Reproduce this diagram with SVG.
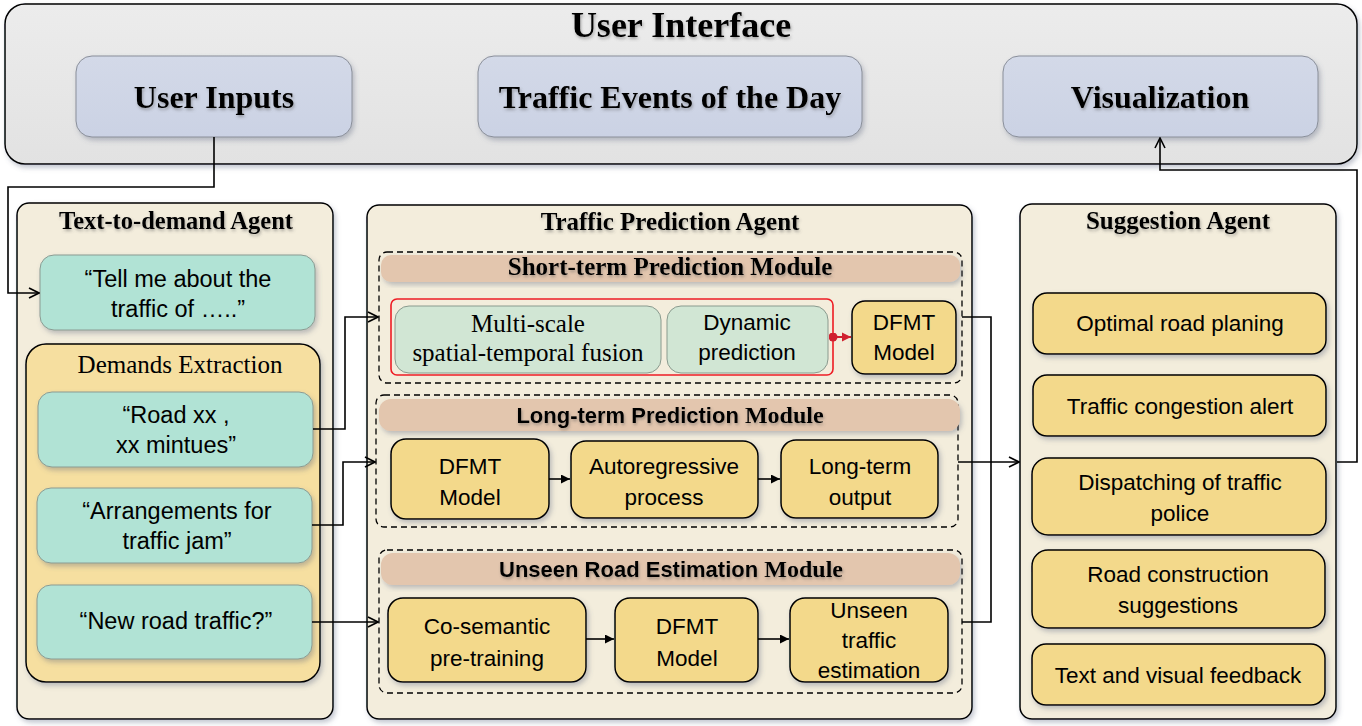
<svg xmlns="http://www.w3.org/2000/svg" width="1362" height="726" viewBox="0 0 1362 726">
<defs>
<filter id="sh" x="-10%" y="-10%" width="125%" height="130%">
<feDropShadow dx="2" dy="3" stdDeviation="2.5" flood-color="#55607a" flood-opacity="0.35"/>
</filter>
<filter id="tsh" x="-5%" y="-20%" width="110%" height="150%">
<feDropShadow dx="1" dy="2" stdDeviation="1.5" flood-color="#555" flood-opacity="0.45"/>
</filter>
<linearGradient id="gUI" x1="0" y1="0" x2="0" y2="1">
<stop offset="0" stop-color="#ececec"/><stop offset="1" stop-color="#e2e2e2"/>
</linearGradient>
<linearGradient id="gBlue" x1="0" y1="0" x2="0" y2="1">
<stop offset="0" stop-color="#d3d9e8"/><stop offset="1" stop-color="#cbd2e4"/>
</linearGradient>
<marker id="open" viewBox="0 0 12 12" refX="11" refY="6" markerWidth="12" markerHeight="12" markerUnits="userSpaceOnUse" orient="auto">
<path d="M1,1 L11,6 L1,11" fill="none" stroke="#000" stroke-width="1.6"/>
</marker>
<marker id="fill" viewBox="0 0 10 10" refX="10" refY="5" markerWidth="9" markerHeight="9" markerUnits="userSpaceOnUse" orient="auto">
<path d="M0,0 L10,5 L0,10 Z" fill="#000"/>
</marker>
<marker id="redArr" viewBox="0 0 10 10" refX="10" refY="5" markerWidth="9" markerHeight="10" markerUnits="userSpaceOnUse" orient="auto">
<path d="M0,0 L10,5 L0,10 Z" fill="#d0202f"/>
</marker>
<marker id="redDot" viewBox="0 0 10 10" refX="5" refY="5" markerWidth="9" markerHeight="9" markerUnits="userSpaceOnUse" orient="auto">
<circle cx="5" cy="5" r="5" fill="#d0202f"/>
</marker>
</defs>
<style>
.ui{fill:url(#gUI);stroke:#000;stroke-width:1.5}
.blue{fill:url(#gBlue);stroke:#8a8f9a;stroke-width:1}
.agent{fill:#f3eddc;stroke:#000;stroke-width:1.5}
.teal{fill:#b1e3d5;stroke:#8b9b92;stroke-width:1}
.green{fill:#d1e6d4;stroke:#8a9a8e;stroke-width:1}
.demand{fill:#f6dfa0;stroke:#000;stroke-width:1.5}
.gold{fill:#f3d98b;stroke:#000;stroke-width:1.5}
.dash{fill:none;stroke:#000;stroke-width:1.3;stroke-dasharray:6 4}
.hdr{fill:#e3c6ae}
.red{fill:none;stroke:#ee1c24;stroke-width:1.6}
.bt{font-family:"Liberation Serif",serif;font-weight:bold;fill:#000;text-anchor:middle}
.st{font-family:"Liberation Serif",serif;fill:#000;text-anchor:middle}
.sn{font-family:"Liberation Sans",sans-serif;font-size:22.5px;fill:#000;text-anchor:middle}
.tq{font-family:"Liberation Sans",sans-serif;font-size:23.5px;fill:#000;text-anchor:middle}
.ln{fill:none;stroke:#000;stroke-width:1.6}
</style>

<g id="user-interface">
<rect x="5" y="4" width="1352" height="160" rx="20" class="ui" filter="url(#sh)"/>
<text x="681" y="37" class="bt" font-size="36" filter="url(#tsh)">User Interface</text>
</g>
<g id="user-inputs">
<rect x="76" y="56" width="276" height="81" rx="16" class="blue" filter="url(#sh)"/>
<text x="214" y="108" class="bt" font-size="32" filter="url(#tsh)">User Inputs</text>
</g>
<g id="traffic-events">
<rect x="478" y="56" width="384" height="81" rx="16" class="blue" filter="url(#sh)"/>
<text x="670" y="108" class="bt" font-size="32" filter="url(#tsh)">Traffic Events of the Day</text>
</g>
<g id="visualization">
<rect x="1003" y="56" width="315" height="81" rx="16" class="blue" filter="url(#sh)"/>
<text x="1160" y="108" class="bt" font-size="32" filter="url(#tsh)">Visualization</text>
</g>

<g id="text-to-demand-agent">
<rect x="17" y="203" width="316" height="516" rx="12" class="agent" filter="url(#sh)"/>
<text x="176" y="229" class="bt" font-size="24.5" filter="url(#tsh)">Text-to-demand Agent</text>
</g>
<g id="tell-me">
<rect x="40" y="255" width="275" height="75" rx="14" class="teal" filter="url(#sh)"/>
<text x="178" y="287" class="tq">“Tell me about the</text>
<text x="178" y="317" class="tq">traffic of …..”</text>
</g>
<g id="demands-extraction">
<rect x="26" y="344" width="294" height="338" rx="20" class="demand" filter="url(#sh)"/>
<text x="180" y="373" class="st" font-size="25">Demands Extraction</text>
</g>
<g id="road-xx">
<rect x="38" y="392" width="275" height="75" rx="14" class="teal" filter="url(#sh)"/>
<text x="176" y="423" class="tq">“Road xx ,</text>
<text x="176" y="453" class="tq">xx mintues”</text>
</g>
<g id="arrangements">
<rect x="37" y="488" width="275" height="75" rx="14" class="teal" filter="url(#sh)"/>
<text x="177" y="519" class="tq">“Arrangements for</text>
<text x="177" y="549" class="tq">traffic jam”</text>
</g>
<g id="new-road">
<rect x="37" y="585" width="275" height="74" rx="14" class="teal" filter="url(#sh)"/>
<text x="176" y="629" class="tq">“New road traffic?”</text>
</g>

<g id="traffic-prediction-agent">
<rect x="367" y="205" width="605" height="514" rx="12" class="agent" filter="url(#sh)"/>
<text x="670" y="230" class="bt" font-size="25" filter="url(#tsh)">Traffic Prediction Agent</text>
</g>
<g id="short-term-module">
<rect x="379" y="252" width="583" height="131" rx="8" class="dash"/>
<rect x="381" y="255" width="579" height="27" rx="10" class="hdr" filter="url(#sh)"/>
<text x="670" y="275" class="bt" font-size="25" filter="url(#tsh)">Short-term Prediction Module</text>
<rect x="391" y="299" width="442" height="76" rx="6" class="red"/>
</g>
<g id="multi-scale">
<rect x="395" y="306" width="266" height="67" rx="14" class="green"/>
<text x="528" y="332" class="st" font-size="25">Multi-scale</text>
<text x="528" y="361" class="st" font-size="25">spatial-temporal fusion</text>
</g>
<g id="dynamic-prediction">
<rect x="667" y="306" width="161" height="67" rx="14" class="green"/>
<text x="747" y="330" class="sn">Dynamic</text>
<text x="747" y="360" class="sn">prediction</text>
</g>
<g id="dfmt-short">
<rect x="852" y="301" width="104" height="73" rx="13" class="gold" filter="url(#sh)"/>
<text x="904" y="330" class="sn">DFMT</text>
<text x="904" y="360" class="sn">Model</text>
</g>

<g id="long-term-module">
<rect x="376" y="395" width="582" height="132" rx="8" class="dash"/>
<rect x="379" y="399" width="581" height="32" rx="12" class="hdr" filter="url(#sh)"/>
<text x="670" y="423" font-size="24" font-weight="bold" text-anchor="middle" filter="url(#tsh)"><tspan font-family="Liberation Sans,sans-serif" font-size="22">Long-term Prediction </tspan><tspan font-family="Liberation Serif,serif">Module</tspan></text>
</g>
<g id="dfmt-long">
<rect x="391" y="439" width="158" height="80" rx="15" class="gold" filter="url(#sh)"/>
<text x="470" y="474" class="sn">DFMT</text>
<text x="470" y="505" class="sn">Model</text>
</g>
<g id="autoregressive">
<rect x="571" y="441" width="187" height="77" rx="15" class="gold" filter="url(#sh)"/>
<text x="664" y="474" class="sn">Autoregressive</text>
<text x="664" y="505" class="sn">process</text>
</g>
<g id="long-term-output">
<rect x="781" y="440" width="157" height="78" rx="15" class="gold" filter="url(#sh)"/>
<text x="860" y="474" class="sn">Long-term</text>
<text x="860" y="505" class="sn">output</text>
</g>

<g id="unseen-module">
<rect x="379" y="550" width="583" height="143" rx="8" class="dash"/>
<rect x="381" y="553" width="579" height="32" rx="12" class="hdr" filter="url(#sh)"/>
<text x="671" y="577" font-size="24" font-weight="bold" text-anchor="middle" filter="url(#tsh)"><tspan font-family="Liberation Sans,sans-serif" font-size="22">Unseen Road Estimation </tspan><tspan font-family="Liberation Serif,serif">Module</tspan></text>
</g>
<g id="co-semantic">
<rect x="388" y="598" width="198" height="84" rx="15" class="gold" filter="url(#sh)"/>
<text x="487" y="634" class="sn">Co-semantic</text>
<text x="487" y="666" class="sn">pre-training</text>
</g>
<g id="dfmt-unseen">
<rect x="615" y="598" width="143" height="84" rx="15" class="gold" filter="url(#sh)"/>
<text x="687" y="634" class="sn">DFMT</text>
<text x="687" y="666" class="sn">Model</text>
</g>
<g id="unseen-estimation">
<rect x="790" y="598" width="158" height="84" rx="15" class="gold" filter="url(#sh)"/>
<text x="869" y="618" class="sn">Unseen</text>
<text x="869" y="648" class="sn">traffic</text>
<text x="869" y="678" class="sn">estimation</text>
</g>

<g id="suggestion-agent">
<rect x="1020" y="204" width="316" height="515" rx="12" class="agent" filter="url(#sh)"/>
<text x="1178" y="229" class="bt" font-size="25" filter="url(#tsh)">Suggestion Agent</text>
</g>
<g id="optimal-road">
<rect x="1033" y="293" width="293" height="61" rx="14" class="gold" filter="url(#sh)"/>
<text x="1180" y="331" class="sn">Optimal road planing</text>
</g>
<g id="congestion-alert">
<rect x="1033" y="375" width="293" height="61" rx="14" class="gold" filter="url(#sh)"/>
<text x="1180" y="414" class="sn">Traffic congestion alert</text>
</g>
<g id="dispatching">
<rect x="1032" y="458" width="294" height="77" rx="16" class="gold" filter="url(#sh)"/>
<text x="1180" y="490" class="sn">Dispatching of traffic</text>
<text x="1180" y="521" class="sn">police</text>
</g>
<g id="road-construction">
<rect x="1032" y="550" width="293" height="78" rx="16" class="gold" filter="url(#sh)"/>
<text x="1178" y="582" class="sn">Road construction</text>
<text x="1178" y="613" class="sn">suggestions</text>
</g>
<g id="text-visual-feedback">
<rect x="1032" y="644" width="293" height="61" rx="14" class="gold" filter="url(#sh)"/>
<text x="1178" y="683" class="sn">Text and visual feedback</text>
</g>

<g id="connectors">
<path d="M214,137 V187 H8 V293 H39" class="ln" marker-end="url(#open)"/>
<path d="M313,429 H345 V317 H378" class="ln" marker-end="url(#open)"/>
<path d="M312,525 H343 V462 H375" class="ln" marker-end="url(#open)"/>
<path d="M312,622 H378" class="ln" marker-end="url(#open)"/>
<path d="M833,337 H851" fill="none" stroke="#d0202f" stroke-width="2" marker-start="url(#redDot)" marker-end="url(#redArr)"/>
<path d="M549,479 H570" class="ln" marker-end="url(#fill)"/>
<path d="M758,479 H780" class="ln" marker-end="url(#fill)"/>
<path d="M586,639 H614" class="ln" marker-end="url(#fill)"/>
<path d="M758,639 H789" class="ln" marker-end="url(#fill)"/>
<path d="M962,317 H991 V622 H962" class="ln"/>
<path d="M958,462 H1019" class="ln" marker-end="url(#open)"/>
<path d="M1337,462 H1357 V170 H1160 V138" class="ln" marker-end="url(#open)"/>
</g>
</svg>
